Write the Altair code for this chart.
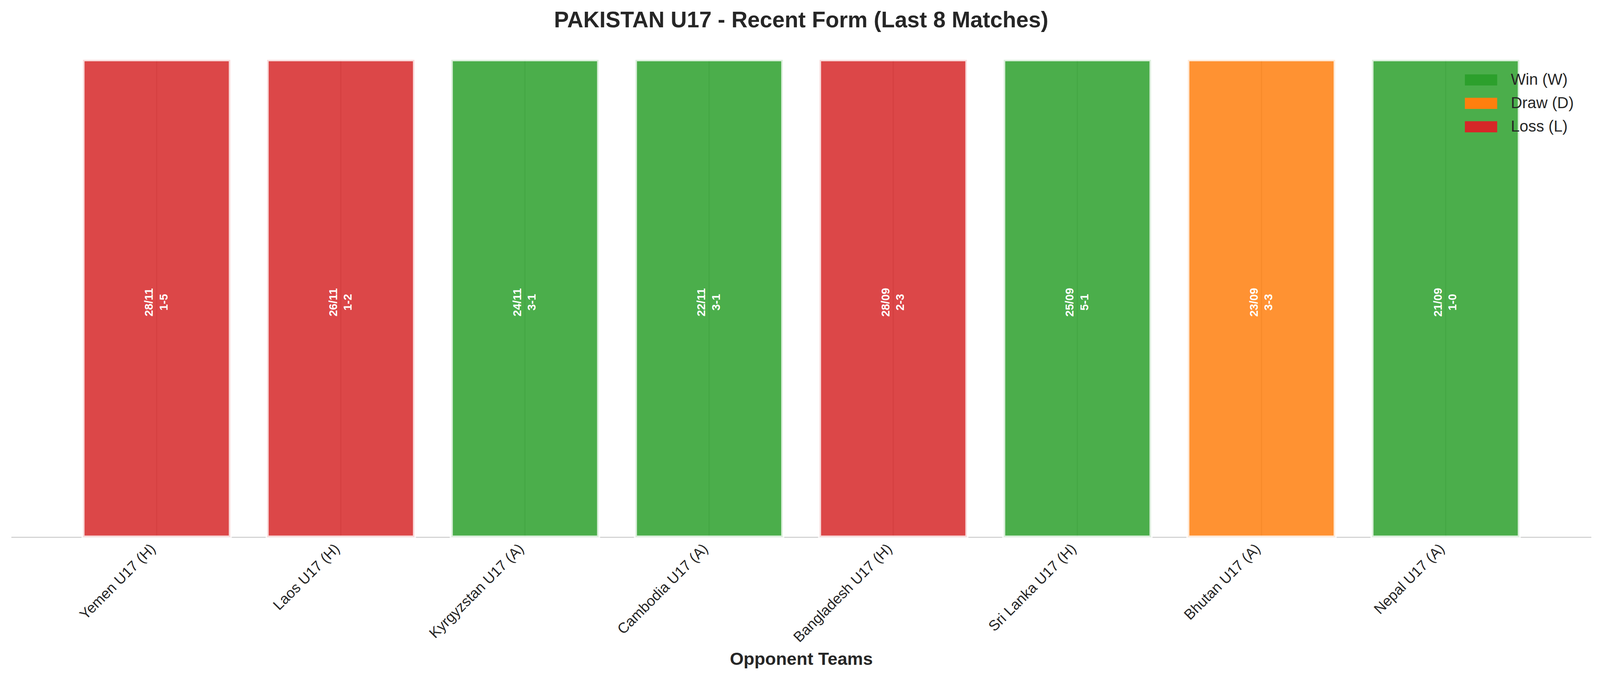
import altair as alt
import pandas as pd

opponents = ["Yemen U17 (H)", "Laos U17 (H)", "Kyrgyzstan U17 (A)", "Cambodia U17 (A)",
             "Bangladesh U17 (H)", "Sri Lanka U17 (H)", "Bhutan U17 (A)", "Nepal U17 (A)"]
dates = ["28/11", "26/11", "24/11", "22/11", "28/09", "25/09", "23/09", "21/09"]
scores = ["1-5", "1-2", "3-1", "3-1", "2-3", "5-1", "3-3", "1-0"]
results = ["L", "L", "W", "W", "L", "W", "D", "W"]
bar_values = [1, 1, 1, 1, 1, 1, 1, 1]

result_names = {"W": "Win (W)", "D": "Draw (D)", "L": "Loss (L)"}
legend_order = ["Win (W)", "Draw (D)", "Loss (L)"]
legend_colors = ["#2ca02c", "#ff7f0e", "#d62728"]

df = pd.DataFrame({
    "opponent": opponents,
    "value": bar_values,
    "result": [result_names[r] for r in results],
    "label": [d + "\n" + s for d, s in zip(dates, scores)],
})

FONT = "Liberation Sans"
TXT = "#262626"

x_enc = alt.X(
    "opponent:N",
    sort=opponents,
    scale=alt.Scale(paddingInner=0.2, paddingOuter=0.39),
    axis=alt.Axis(
        title="Opponent Teams",
        titleFont=FONT, titleFontSize=46, titleFontWeight="bold", titleColor=TXT,
        titleBaseline="alphabetic", titleY=332,
        labelFont=FONT, labelFontSize=38, labelColor=TXT, labelLimit=0,
        labelAngle=-45, labelAlign="right", labelBaseline="top",
        labelPadding=11, labelOffset=-22,
        ticks=False, grid=False,
        domainColor="#cccccc", domainWidth=2.5,
    ),
)
y_scale = alt.Scale(domain=[0, 1], nice=False, zero=True)

base = alt.Chart(df)

grid = base.mark_rule(color="#cccccc", strokeWidth=3).encode(
    x=x_enc,
    y=alt.Y("zero:Q", scale=y_scale, axis=None),
    y2=alt.Y2("value:Q"),
).transform_calculate(zero="0")

bars = base.mark_bar(fillOpacity=0.85, stroke="white", strokeWidth=8, strokeOpacity=0.8).encode(
    x=x_enc,
    y=alt.Y("value:Q", scale=y_scale, axis=None),
    color=alt.Color(
        "result:N",
        scale=alt.Scale(domain=legend_order, range=legend_colors),
        legend=alt.Legend(
            title=None, orient="none", legendX=3805, legendY=32,
            labelFont=FONT, labelFontSize=41, labelColor=TXT, labelLimit=0,
            symbolType="M-2.9,-1L2.9,-1L2.9,1L-2.9,1Z", symbolSize=841,
            symbolStrokeWidth=0, symbolOpacity=1,
            labelOffset=57, rowPadding=19, padding=0,
        ),
    ),
)

texts = base.mark_text(
    angle=270, align="center", baseline="middle", color="white",
    font=FONT, fontSize=30, fontWeight="bold", lineBreak="\n", lineHeight=38,
    dy=-19, dx=-10,
).encode(
    x=x_enc,
    y=alt.Y("mid:Q", scale=y_scale, axis=None),
    text="label:N",
).transform_calculate(mid="datum.value / 2")

chart = alt.layer(grid, bars, texts).properties(
    width=4112,
    height=1243,
    padding={"left": 21, "top": 133, "right": 15, "bottom": 371},
    autosize=alt.AutoSizeParams(type="none"),
    background="white",
    title=alt.TitleParams(
        "PAKISTAN U17 - Recent Form (Last 8 Matches)",
        font=FONT, fontSize=58, fontWeight="bold", color=TXT,
        anchor="middle", baseline="alphabetic", offset=23,
    ),
).configure_view(stroke=None)

chart.save("out.html", embed_options={"renderer": "svg", "actions": False})
